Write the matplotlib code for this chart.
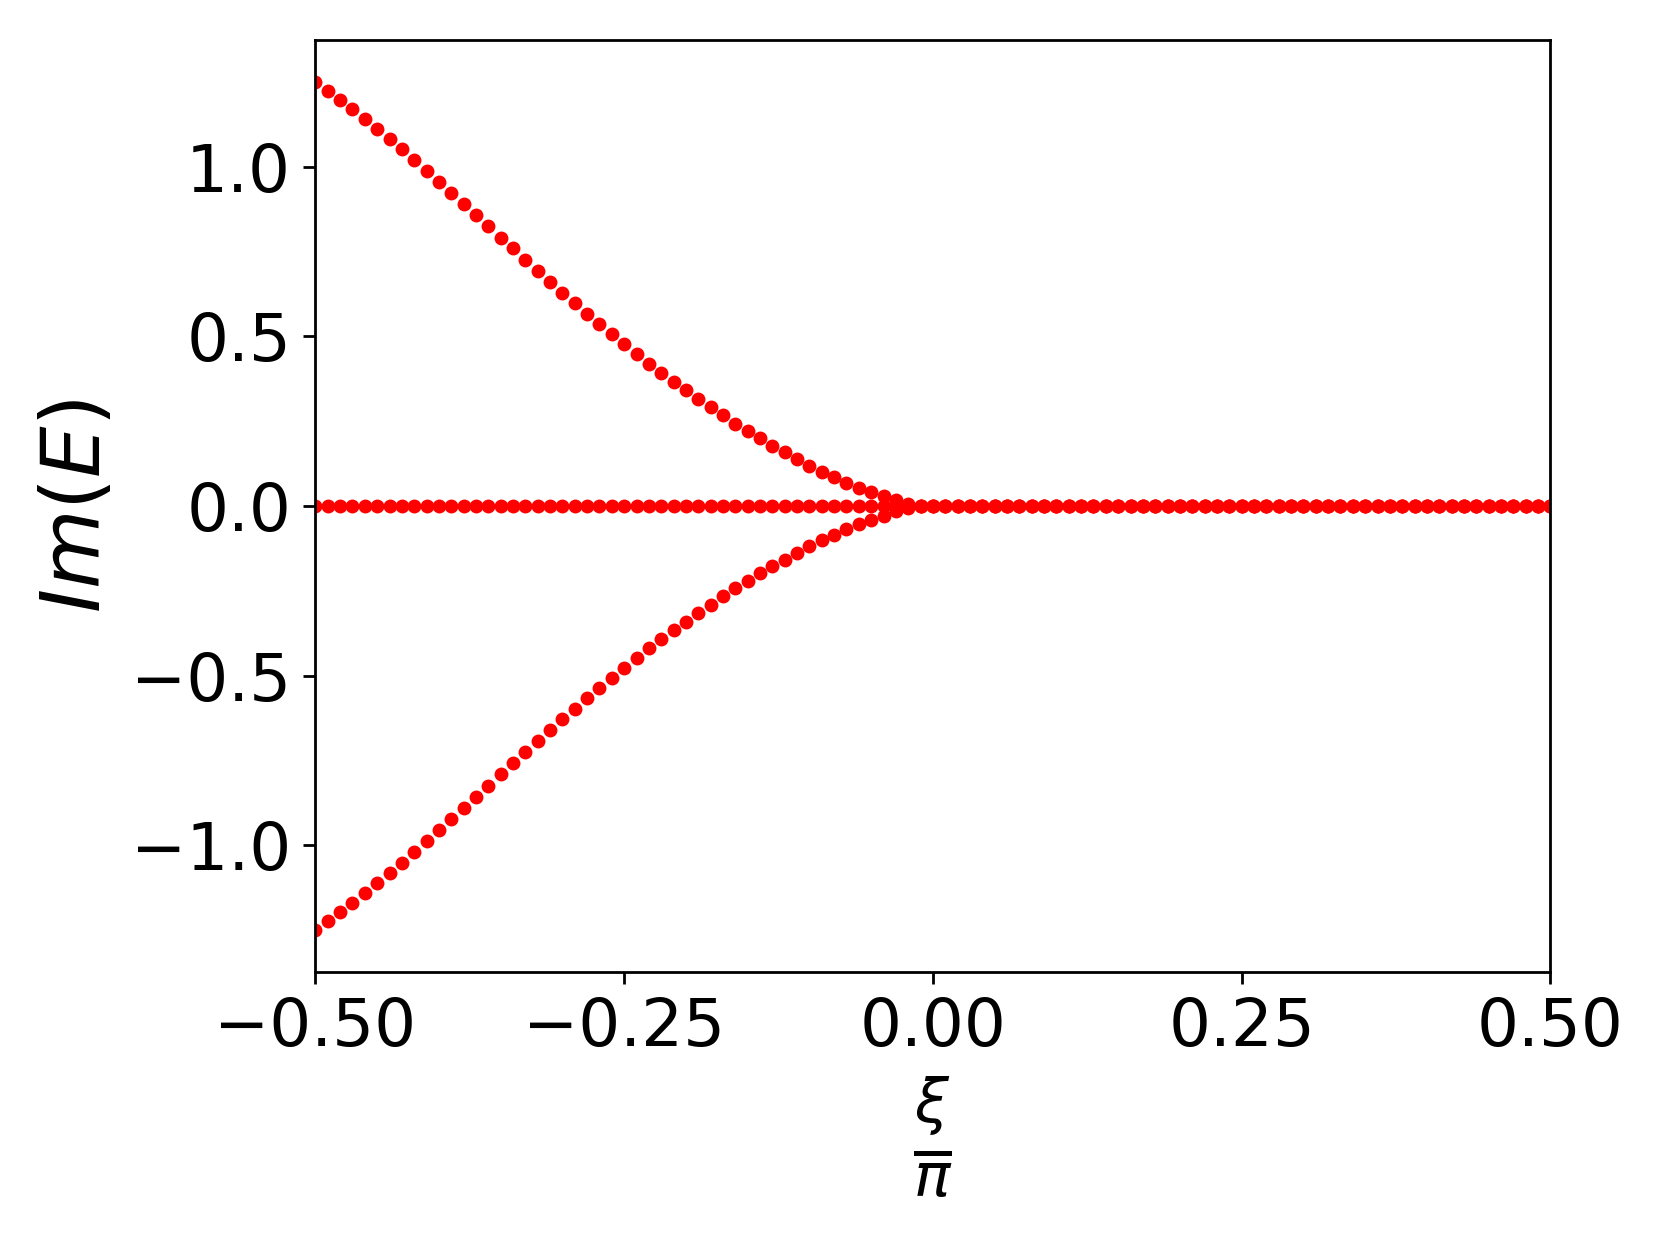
import numpy as np
from matplotlib import pyplot as plt

# sampling grid xi/pi, 101 points
xi_over_pi = np.linspace(-0.5, 0.5, 101)

# Im(E), upper branch (x = -0.50 ... -0.02), then zero
im_upper = [1.249, 1.224, 1.198, 1.170, 1.141, 1.111, 1.082, 1.052, 1.021, 0.988,
            0.956, 0.923, 0.890, 0.858, 0.825, 0.791, 0.759, 0.726, 0.693, 0.661,
            0.629, 0.598, 0.566, 0.536, 0.506, 0.477, 0.447, 0.419, 0.393, 0.365,
            0.341, 0.315, 0.291, 0.267, 0.242, 0.221, 0.199, 0.177, 0.158, 0.138,
            0.119, 0.101, 0.085, 0.068, 0.054, 0.041, 0.030, 0.016, 0.006] + [0.0] * 52
im_lower = [-1.249, -1.224, -1.198, -1.170, -1.141, -1.111, -1.082, -1.052, -1.021, -0.988,
            -0.956, -0.923, -0.890, -0.858, -0.825, -0.791, -0.759, -0.726, -0.693, -0.661,
            -0.629, -0.598, -0.566, -0.536, -0.506, -0.477, -0.447, -0.419, -0.393, -0.365,
            -0.341, -0.315, -0.291, -0.267, -0.242, -0.221, -0.199, -0.177, -0.158, -0.138,
            -0.119, -0.101, -0.085, -0.068, -0.054, -0.041, -0.030, -0.016, -0.006] + [0.0] * 52
im_flat = [0.0] * 101

x_ticks = [-0.5, -0.25, 0.0, 0.25, 0.5]

fig = plt.figure(figsize=(6.64, 4.98), dpi=250)
ax = fig.add_axes([0.190, 0.2193, 0.744, 0.7487])

for branch in (im_flat, im_upper, im_lower):
    ax.plot(xi_over_pi, branch, 'o', color='red', markersize=4.0, markeredgewidth=0)

ax.set_xlim(-0.5, 0.5)
ax.set_xticks(x_ticks)
ax.tick_params(labelsize=19)
ax.set_xlabel(r'$\frac{\xi}{\pi}$', fontsize=25)
ax.set_ylabel(r'$Im(E)$', fontsize=23.5)

fig.savefig('out.png', dpi=250)
